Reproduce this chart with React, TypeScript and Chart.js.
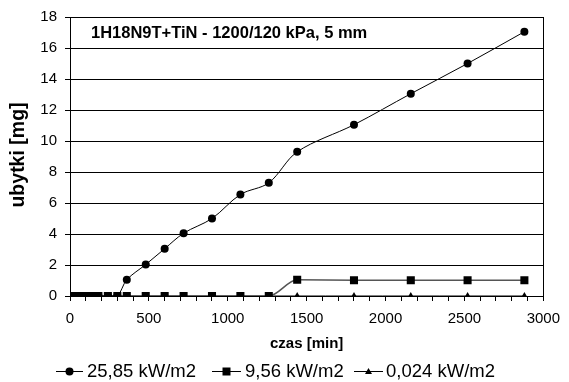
import React, { useEffect, useRef } from "react";
import { Chart, registerables } from "chart.js";

Chart.register(...registerables);

const times = [0, 30, 60, 90, 120, 150, 180, 240, 300, 360, 480, 600, 720, 900, 1080, 1260, 1440, 1800, 2160, 2520, 2880];
const s1Values = [0, 0, 0, 0, 0, 0, 0, 0, 0, 1.05, 2.03, 3.05, 4.05, 5.0, 6.55, 7.3, 9.3, 11.05, 13.05, 15.0, 17.05];
const s2Values = [0, 0, 0, 0, 0, 0, 0, 0, 0, 0, 0, 0, 0, 0, 0, 0, 1.05, 1.02, 1.02, 1.02, 1.02];
const s3Values = [0, 0, 0, 0, 0, 0, 0, 0, 0, 0, 0, 0, 0, 0, 0, 0, 0, 0, 0, 0, 0];
const seriesLabels = ["25,85 kW/m2", "9,56 kW/m2", "0,024 kW/m2"];
const chartTitle = "1H18N9T+TiN - 1200/120 kPa, 5 mm";
const xTitle = "czas [min]";
const yTitle = "ubytki [mg]";

const FONT = "'Liberation Sans', Arial, sans-serif";

const toXY = (vals: number[]) => vals.map((v, i) => ({ x: times[i], y: v }));

const decorPlugin = {
  id: "decor",
  beforeDatasetsDraw(chart: any) {
    const { ctx, chartArea: a } = chart;
    ctx.save();
    ctx.strokeStyle = "#000";
    ctx.lineWidth = 1;
    ctx.strokeRect(Math.round(a.left) + 0.5, Math.round(a.top) + 0.5, Math.round(a.right - a.left), Math.round(a.bottom - a.top));
    ctx.restore();
  },
  afterDraw(chart: any) {
    const { ctx, chartArea: a } = chart;
    ctx.save();
    ctx.fillStyle = "#000";
    // in-plot title
    ctx.font = `bold 16.5px ${FONT}`;
    ctx.textAlign = "left";
    ctx.textBaseline = "alphabetic";
    ctx.fillText(chartTitle, 91, 38);
    // x title
    ctx.font = `bold 15px ${FONT}`;
    ctx.textAlign = "center";
    ctx.textBaseline = "middle";
    ctx.fillText(xTitle, (a.left + a.right) / 2, 344);
    // y title
    ctx.save();
    ctx.translate(19, 155);
    ctx.rotate(-Math.PI / 2);
    ctx.font = `bold 19.5px ${FONT}`;
    ctx.fillText(yTitle, 0, 0);
    ctx.restore();
    // legend
    const items = [
      { x1: 56, x2: 83, tx: 87, style: "circle" },
      { x1: 212, x2: 241, tx: 245, style: "rect" },
      { x1: 354, x2: 383, tx: 386, style: "triangle" },
    ];
    const ly = 371;
    items.forEach((it, i) => {
      ctx.strokeStyle = "#000";
      ctx.lineWidth = 1;
      ctx.beginPath();
      ctx.moveTo(it.x1, ly + 0.5);
      ctx.lineTo(it.x2, ly + 0.5);
      ctx.stroke();
      const cx = (it.x1 + it.x2) / 2;
      ctx.fillStyle = "#000";
      ctx.beginPath();
      if (it.style === "circle") {
        ctx.arc(cx, ly + 0.5, 4, 0, Math.PI * 2);
      } else if (it.style === "rect") {
        ctx.rect(cx - 4, ly - 3.5, 8, 8);
      } else {
        ctx.moveTo(cx, ly - 3);
        ctx.lineTo(cx + 3.5, ly + 3);
        ctx.lineTo(cx - 3.5, ly + 3);
        ctx.closePath();
      }
      ctx.fill();
      ctx.font = `18.5px ${FONT}`;
      ctx.textAlign = "left";
      ctx.textBaseline = "middle";
      ctx.fillText(seriesLabels[i], it.tx, ly + 1);
    });
    ctx.restore();
  },
};

export default function App() {
  const ref = useRef<HTMLCanvasElement | null>(null);
  useEffect(() => {
    if (!ref.current) return;
    const chart = new Chart(ref.current, {
      type: "line",
      data: {
        datasets: [
          {
            label: seriesLabels[0],
            data: toXY(s1Values),
            borderColor: "#000",
            backgroundColor: "#000",
            borderWidth: 1,
            pointStyle: "circle",
            pointRadius: 4,
            pointBorderWidth: 0,
            tension: 0.33,
          },
          {
            label: seriesLabels[1],
            data: toXY(s2Values),
            borderColor: "#555",
            backgroundColor: "#000",
            borderWidth: 1.5,
            pointStyle: "rect",
            pointRadius: 5.7,
            pointBorderWidth: 0,
            cubicInterpolationMode: "monotone",
          },
          {
            label: seriesLabels[2],
            data: toXY(s3Values),
            borderColor: "#000",
            backgroundColor: "#000",
            borderWidth: 1,
            pointStyle: "triangle",
            pointRadius: 4,
            pointBorderWidth: 0,
            tension: 0.33,
          },
        ],
      },
      options: {
        animation: false,
        responsive: false,
        maintainAspectRatio: false,
        layout: { padding: { left: 0, right: 19, top: 15, bottom: 0 } },
        plugins: {
          legend: { display: false },
          title: { display: false },
          tooltip: { enabled: false },
        },
        scales: {
          x: {
            type: "linear",
            min: 0,
            max: 3000,
            afterFit: (s: any) => {
              s.height = 86;
            },
            border: { display: true, color: "#000", width: 1 },
            grid: { drawOnChartArea: false, drawTicks: true, tickLength: 5, color: "#000" },
            ticks: {
              stepSize: 100,
              autoSkip: false,
              maxRotation: 0,
              padding: 9,
              color: "#000",
              font: { family: FONT, size: 15 },
              callback: (v: any) => (Number(v) % 500 === 0 ? String(v) : ""),
            },
          },
          y: {
            type: "linear",
            min: 0,
            max: 18,
            afterFit: (s: any) => {
              s.width = 70;
            },
            border: { display: true, color: "#000", width: 1 },
            grid: { color: "#000", lineWidth: 1, drawTicks: true, tickLength: 5 },
            ticks: {
              stepSize: 2,
              padding: 8,
              color: "#000",
              font: { family: FONT, size: 15 },
            },
          },
        },
      },
      plugins: [decorPlugin],
    } as any);
    return () => chart.destroy();
  }, []);
  return (
    <div style={{ position: "absolute", left: 0, top: 0, width: 569, height: 382, background: "#fff" }}>
      <canvas ref={ref} width={569} height={382} style={{ width: 569, height: 382, display: "block" }} />
    </div>
  );
}
